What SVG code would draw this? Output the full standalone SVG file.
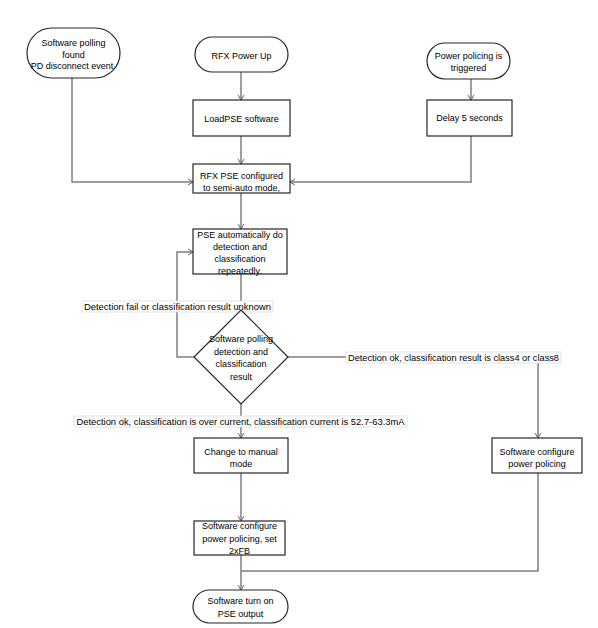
<svg xmlns="http://www.w3.org/2000/svg" width="598" height="628" viewBox="0 0 598 628">
<style>
.node{fill:#fff;stroke:#262626;stroke-width:1.2}
.conn{fill:none;stroke:#7f7f7f;stroke-width:1.5}
text{font-family:"Liberation Sans",Arial,sans-serif;font-size:9px;fill:#000;text-anchor:middle}
.lbl{fill:#fff;stroke:#dcdcdc;stroke-width:0.8}
</style>
<defs>
<marker id="arr" markerWidth="8" markerHeight="8" refX="6" refY="4" orient="auto" markerUnits="userSpaceOnUse">
<path d="M1,1 L6,4 L1,7" fill="none" stroke="#555" stroke-width="0.9"/>
</marker>
</defs>
<rect width="598" height="628" fill="#fff"/>
<g id="connectors">
<path class="conn" d="M72,78 V182 H193" marker-end="url(#arr)"/>
<path class="conn" d="M241,72 V100" marker-end="url(#arr)"/>
<path class="conn" d="M241,136 V164" marker-end="url(#arr)"/>
<path class="conn" d="M471,79 V100" marker-end="url(#arr)"/>
<path class="conn" d="M471,136 V182 H290" marker-end="url(#arr)"/>
<path class="conn" d="M241,193 V229" marker-end="url(#arr)"/>
<path class="conn" d="M241,274 V310" marker-end="url(#arr)"/>
<path class="conn" d="M194,357 H177 V252 H193" marker-end="url(#arr)"/>
<path class="conn" d="M288,357 H538 V438" marker-end="url(#arr)"/>
<path class="conn" d="M241,404 V438" marker-end="url(#arr)"/>
<path class="conn" d="M241,473 V521" marker-end="url(#arr)"/>
<path class="conn" d="M241,555 V590" marker-end="url(#arr)"/>
<path class="conn" d="M538,473 V571 H241"/>
<g id="label-fail">
<rect class="lbl" x="82" y="301" width="191" height="11"/>
<text x="177.5" y="309.5" textLength="187" lengthAdjust="spacingAndGlyphs">Detection fail or classification result unknown</text>
</g>
<g id="label-class48">
<rect class="lbl" x="346" y="352" width="215" height="11"/>
<text x="453.5" y="360.5" textLength="211" lengthAdjust="spacingAndGlyphs">Detection ok, classification result is class4 or class8</text>
</g>
<g id="label-over">
<rect class="lbl" x="74" y="416" width="333" height="11"/>
<text x="240.5" y="424.5" textLength="328" lengthAdjust="spacingAndGlyphs">Detection ok, classification is over current, classification current is 52.7-63.3mA</text>
</g>
</g>
<g id="n-disconnect">
<rect class="node" x="27" y="28" width="93" height="50" rx="25" ry="25"/>
<text x="73.5" y="46">Software polling</text>
<text x="73.5" y="57.5">found</text>
<text x="72" y="69">PD disconnect event</text>
</g>
<g id="n-powerup">
<rect class="node" x="195" y="37" width="93" height="35" rx="17.5" ry="17.5"/>
<text x="241.5" y="58.5">RFX Power Up</text>
</g>
<g id="n-load">
<rect class="node" x="193" y="100" width="97" height="36"/>
<text x="241.5" y="121.5">LoadPSE software</text>
</g>
<g id="n-policing">
<rect class="node" x="427" y="43" width="83" height="36" rx="18" ry="18"/>
<text x="468.5" y="59">Power policing is</text>
<text x="468.5" y="71">triggered</text>
</g>
<g id="n-delay">
<rect class="node" x="427" y="100" width="85" height="36"/>
<text x="469.5" y="121">Delay 5 seconds</text>
</g>
<g id="n-semiauto">
<rect class="node" x="193" y="164" width="97" height="29"/>
<text x="241.5" y="179">RFX PSE configured</text>
<text x="241.5" y="190.5">to semi-auto mode,</text>
</g>
<g id="n-auto">
<rect class="node" x="193" y="229" width="94" height="45"/>
<text x="240" y="238">PSE automatically do</text>
<text x="240" y="250">detection and</text>
<text x="240" y="262">classification</text>
<text x="240" y="274">repeatedly.</text>
</g>
<g id="n-decision">
<polygon class="node" points="241,310 288,357 241,404 194,357"/>
<text x="241" y="342">Software polling</text>
<text x="241" y="354.5">detection and</text>
<text x="241" y="367">classification</text>
<text x="241" y="380">result</text>
</g>
<g id="n-manual">
<rect class="node" x="194" y="438" width="94" height="35"/>
<text x="241" y="455">Change to manual</text>
<text x="241" y="467">mode</text>
</g>
<g id="n-swpolicing">
<rect class="node" x="492" y="438" width="90" height="35"/>
<text x="537" y="455">Software configure</text>
<text x="537" y="467">power policing</text>
</g>
<g id="n-2xfb">
<rect class="node" x="194" y="521" width="91" height="34"/>
<text x="239.5" y="529">Software configure</text>
<text x="239.5" y="541.5">power policing, set</text>
<text x="239.5" y="554">2xFB</text>
</g>
<g id="n-turnon">
<rect class="node" x="193" y="590" width="95" height="33" rx="16.5" ry="16.5"/>
<text x="240.5" y="604">Software turn on</text>
<text x="240.5" y="617">PSE output</text>
</g>
</svg>
